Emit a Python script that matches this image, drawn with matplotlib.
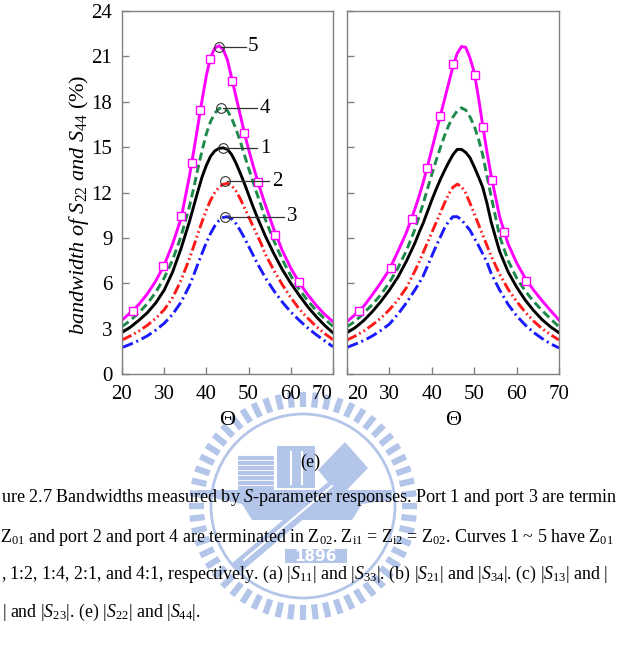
import matplotlib
matplotlib.use("Agg")
import matplotlib.pyplot as plt
import numpy as np

plt.rcParams["font.family"] = ["Liberation Serif", "DejaVu Serif"]
plt.rcParams["mathtext.fontset"] = "custom"
plt.rcParams["mathtext.rm"] = "Liberation Serif"
plt.rcParams["mathtext.it"] = "Liberation Serif:italic"

# angle grid (deg)
theta = [20, 22, 24, 26, 28, 30, 32, 34, 36,
         37, 38, 39, 40, 41, 42, 43, 44, 45, 46, 47, 48, 49, 50, 51, 52, 53,
         54, 56, 58, 60, 62, 64, 66, 68, 70]

# left panel, curves 5, 4, 1, 2, 3
c5_left = [3.57, 4.05, 4.6, 5.3, 6.15, 7.2, 8.6, 10.3, 13.1,
           14.75, 16.45, 18.15, 19.75, 20.95, 21.55, 21.7, 21.45, 20.75, 19.55, 18.35, 17.15, 15.95, 14.85, 13.85, 12.9, 12.0,
           11.15, 9.55, 8.15, 7.0, 6.05, 5.25, 4.55, 3.95, 3.46]
c4_left = [3.13, 3.55, 4.05, 4.65, 5.4, 6.35, 7.55, 9.1, 11.1,
           12.3, 13.6, 14.8, 15.9, 16.7, 17.25, 17.55, 17.6, 17.4, 16.9, 16.2, 15.4, 14.5, 13.6, 12.75, 11.9, 11.1,
           10.2, 8.8, 7.55, 6.5, 5.6, 4.85, 4.2, 3.65, 3.15]
c1_left = [2.75, 3.1, 3.55, 4.05, 4.7, 5.55, 6.75, 8.3, 10.1,
           11.1, 12.1, 13.05, 13.8, 14.4, 14.75, 14.92, 14.95, 14.85, 14.5, 13.95, 13.3, 12.6, 11.85, 11.1, 10.4, 9.75,
           9.1, 7.95, 6.9, 6.0, 5.2, 4.45, 3.8, 3.22, 2.72]
c2_left = [2.25, 2.52, 2.84, 3.22, 3.68, 4.25, 5.05, 6.2, 7.65,
           8.45, 9.3, 10.1, 10.85, 11.5, 12.0, 12.35, 12.55, 12.6, 12.45, 12.1, 11.6, 11.0, 10.4, 9.8, 9.2, 8.6,
           7.9, 6.85, 5.9, 5.05, 4.3, 3.7, 3.15, 2.68, 2.27]
c3_left = [1.75, 1.97, 2.22, 2.52, 2.9, 3.35, 3.95, 4.75, 5.85,
           6.55, 7.3, 8.0, 8.7, 9.3, 9.8, 10.15, 10.35, 10.4, 10.25, 9.95, 9.5, 9.0, 8.45, 7.9, 7.35, 6.85,
           6.35, 5.5, 4.75, 4.1, 3.55, 3.05, 2.6, 2.2, 1.8]

# right panel
c5_right = [3.46, 3.95, 4.5, 5.25, 6.05, 6.9, 8.1, 9.35, 10.9,
            11.75, 12.7, 13.75, 14.85, 15.95, 17.05, 18.15, 19.25, 20.35, 21.2, 21.65, 21.6, 20.9, 19.95, 18.3, 16.45, 14.7,
            13.1, 10.4, 8.6, 7.35, 6.35, 5.55, 4.85, 4.2, 3.57]
c4_right = [3.13, 3.5, 4.05, 4.6, 5.25, 6.05, 7.0, 8.15, 9.55,
            10.4, 11.3, 12.25, 13.2, 14.1, 14.95, 15.75, 16.45, 17.0, 17.4, 17.6, 17.45, 17.0, 16.4, 15.55, 14.5, 13.1,
            11.75, 9.1, 7.5, 6.35, 5.5, 4.8, 4.2, 3.65, 3.12]
c1_right = [2.73, 3.08, 3.55, 4.13, 4.8, 5.55, 6.4, 7.45, 8.65,
            9.35, 10.0, 10.75, 11.5, 12.2, 12.85, 13.45, 14.0, 14.5, 14.85, 14.85, 14.65, 14.3, 13.7, 13.05, 12.35, 11.3,
            10.05, 8.1, 6.75, 5.75, 4.9, 4.2, 3.6, 3.12, 2.73]
c2_right = [2.25, 2.52, 2.85, 3.25, 3.7, 4.25, 4.9, 5.7, 6.8,
            7.4, 8.05, 8.7, 9.35, 10.0, 10.65, 11.3, 11.9, 12.35, 12.55, 12.4, 11.95, 11.3, 10.6, 9.9, 9.2, 8.5,
            7.8, 6.6, 5.6, 4.8, 4.1, 3.5, 3.0, 2.6, 2.25]
c3_right = [1.76, 1.98, 2.22, 2.52, 2.88, 3.3, 3.95, 4.7, 5.55,
            6.0, 6.5, 7.15, 7.8, 8.45, 9.05, 9.65, 10.1, 10.4, 10.4, 10.2, 9.85, 9.5, 9.0, 8.5, 7.95, 7.4,
            6.65, 5.55, 4.6, 3.85, 3.25, 2.75, 2.35, 2.0, 1.72]

# square markers on curve 5
mk_left_x = [22.5, 29.8, 34.0, 36.5, 38.5, 40.8, 46.0, 49.0, 52.2, 56.2, 61.9]
mk_left_y = [4.19, 7.12, 10.45, 13.93, 17.45, 20.85, 19.4, 15.95, 12.7, 9.2, 6.1]
mk_right_x = [22.9, 30.4, 35.3, 38.9, 42.0, 45.1, 50.1, 52.1, 54.2, 57.1, 62.3]
mk_right_y = [4.19, 7.03, 10.25, 13.64, 17.08, 20.5, 19.8, 16.3, 12.8, 9.4, 6.15]

# peak labels (left panel)
peak_x = [43.0, 43.5, 44.0, 44.4, 44.4]
peak_y = [21.64, 17.57, 14.92, 12.76, 10.4]
peak_lbl = ["5", "4", "1", "2", "3"]
lbl_x = [49.9, 52.7, 52.7, 55.5, 59.0]

styles = {
    "c5": dict(color="#ff00ff", ls="-"),
    "c4": dict(color="#1f8a4c", ls=(0, (2.8, 1.5))),
    "c1": dict(color="black", ls="-"),
    "c2": dict(color="#ff1a1a", ls=(0, (3.6, 1.1, 0.6, 1.1, 0.6, 1.1))),
    "c3": dict(color="#1a1aff", ls=(0, (4.0, 1.3, 0.7, 1.3))),
}

# visible part of the (cropped) figure caption
caption = [
    "ure 2.7 Bandwidths measured by $S$-parameter responses. Port 1 and port 3 are termin",
    "Z$_{\\mathrm{01}}$ and port 2 and port 4 are terminated in Z$_{\\mathrm{02}}$. Z$_{\\mathrm{i1}}$ = Z$_{\\mathrm{i2}}$ = Z$_{\\mathrm{02}}$. Curves 1 ~ 5 have Z$_{\\mathrm{01}}$",
    ", 1:2, 1:4, 2:1, and 4:1, respectively. (a) |$S_{\\mathrm{11}}$| and |$S_{\\mathrm{33}}$|. (b) |$S_{\\mathrm{21}}$| and |$S_{\\mathrm{34}}$|. (c) |$S_{\\mathrm{13}}$| and |",
    "| and |$S_{\\mathrm{23}}$|. (e) |$S_{\\mathrm{22}}$| and |$S_{\\mathrm{44}}$|.",
]
caption_x = [1, 0, 1, 2]
caption_y = [498, 537, 574, 612]
caption_fs = [13.1, 12.9, 12.9, 12.9]


def draw_panel(ax, curves, mx, my):
    ax.set_facecolor("none")
    for key, vals in curves:
        ax.plot(theta, vals, lw=2.1, **styles[key])
    ax.plot(mx, my, ls="none", marker="s", ms=5.5, mfc="white",
            mec="#ff00ff", mew=1.0)
    ax.set_xlim(20, 70)
    ax.set_ylim(0, 24)
    ax.set_xticks(range(20, 71, 10))
    ax.set_yticks(range(0, 25, 3))
    ax.tick_params(direction="in", length=5, width=1, color="#808080",
                   labelsize=15)
    ax.tick_params(axis="x", pad=8)
    ax.tick_params(axis="y", pad=7)
    for s in ax.spines.values():
        s.set_color("#808080")
        s.set_linewidth(1.0)
    ax.set_xlabel("Θ", fontsize=16, labelpad=5)


def draw_watermark(fig, W, H):
    # faint university seal printed behind the caption
    wm = fig.add_axes([0, 0, 1, 1], zorder=-5)
    wm.set_xlim(0, W)
    wm.set_ylim(H, 0)
    wm.axis("off")
    col = "#b3c5e8"
    cx, cy = 303, 506
    for a in np.linspace(0, 2 * np.pi, 56, endpoint=False):
        wm.plot([cx + 99 * np.cos(a), cx + 114 * np.cos(a)],
                [cy + 99 * np.sin(a), cy + 114 * np.sin(a)],
                color=col, lw=4.5, solid_capstyle="butt")
    wm.add_patch(plt.Circle((cx, cy), 92, fill=False, ec=col, lw=2))
    # stack of books
    for yy in range(458, 490, 5):
        wm.plot([238, 274], [yy, yy], color=col, lw=3, solid_capstyle="butt")
    # block with the letters
    wm.add_patch(plt.Rectangle((277, 446), 38, 42, fc=col, ec="none"))
    wm.plot([291, 291], [452, 484], color="white", lw=1.5)
    wm.plot([302, 302], [452, 484], color="white", lw=1.5)
    # tilted "A" plate
    wm.add_patch(plt.Polygon([[318, 470], [345, 442], [368, 468], [340, 497]],
                             fc=col, ec="none"))
    # anvil
    wm.add_patch(plt.Polygon([[195, 490], [392, 490], [392, 500], [362, 504],
                              [352, 520], [252, 520], [242, 504], [218, 499]],
                             fc=col, ec="none"))
    # handle
    wm.plot([236, 340], [568, 480], color=col, lw=9, solid_capstyle="butt")
    wm.plot([244, 332], [560, 486], color="white", lw=1.5)
    # year plate
    wm.add_patch(plt.Rectangle((285, 549), 62, 14, fc=col, ec="none"))
    wm.text(316, 556.5, "1896", color="white", fontsize=11, fontweight="bold",
            family="DejaVu Sans", ha="center", va="center")


fig = plt.figure(figsize=(6.18, 6.52), dpi=100)
W, H = 618, 652
draw_watermark(fig, W, H)

ax1 = fig.add_axes([122 / W, 1 - 374 / H, 211 / W, 363 / H])
ax2 = fig.add_axes([347 / W, 1 - 374 / H, 212 / W, 363 / H])

draw_panel(ax1, [("c5", c5_left), ("c4", c4_left), ("c1", c1_left),
                 ("c2", c2_left), ("c3", c3_left)], mk_left_x, mk_left_y)
draw_panel(ax2, [("c5", c5_right), ("c4", c4_right), ("c1", c1_right),
                 ("c2", c2_right), ("c3", c3_right)], mk_right_x, mk_right_y)
ax2.tick_params(labelleft=False)
# the neighbouring "70" and "20" are pushed apart as in the original
ax1.get_xticklabels()[-1].set_horizontalalignment("right")
ax2.get_xticklabels()[0].set_horizontalalignment("left")

ax1.set_ylabel(r"$bandwidth\ of\ S_{\mathrm{22}}\ and\ S_{\mathrm{44}}$ (%)", fontsize=16)
ax1.yaxis.set_label_coords(-0.145, 0.466)

for px, py, t, tx in zip(peak_x, peak_y, peak_lbl, lbl_x):
    ax1.plot([px], [py], ls="none", marker="o", ms=7, mfc="none",
             mec="#333333", mew=0.8)
    ax1.plot([px + 0.5, tx - 0.6], [py, py], color="#333333", lw=0.9)
    ax1.text(tx, py, t, fontsize=15, va="center", ha="left")

fig.text(310 / W, 1 - 462 / H, "(e)", fontsize=13, ha="center", va="center")
for t, x0, y0, fs in zip(caption, caption_x, caption_y, caption_fs):
    fig.text(x0 / W, 1 - y0 / H, t, fontsize=fs, ha="left", va="center")

fig.savefig("out.png", dpi=100)
